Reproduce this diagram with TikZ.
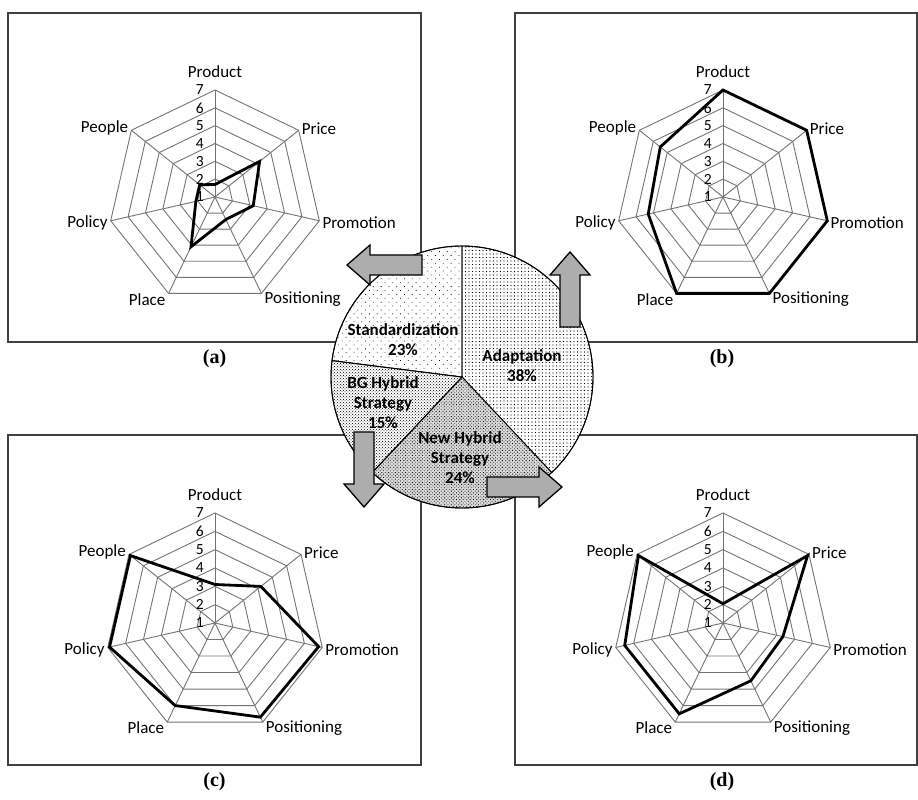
\documentclass[tikz,border=0pt]{standalone}
\usepackage{fontspec}
\setmainfont{Carlito}
\newfontfamily\capfont{Liberation Serif}
\usepackage{tikz}
\usetikzlibrary{positioning,patterns,patterns.meta}

% one spider chart: name, centre, radius, values (Product ... People)
\newcommand{\radarplot}[4]{%
  \begin{scope}[shift={#2}]
    \foreach \k in {2,...,7}
      \draw[grid] (90:{(\k-1)*#3/6}) \foreach \i in {1,...,6} { -- ({90-\i*360/7}:{(\k-1)*#3/6}) } -- cycle;
    \foreach \i in {0,...,6}
      \draw[grid] (0,0) -- ({90-\i*360/7}:#3);
    \foreach \k in {1,...,7}
      \node[vallab] (#1-v\k) at (-10,{(\k-1)*#3/6}) {\k};
    \foreach \lab/\anc/\dy [count=\i from 0] in {Product/south/9, Price/west/2, Promotion/west/-2, Positioning/west/-6, Place/east/-6, Policy/east/-2, People/east/2}
      \node[axlab, anchor=\anc, yshift=\dy] (#1-\i) at ({90-\i*360/7}:#3) {\lab};
    \foreach \v [count=\i from 0] in {#4}
      \coordinate (#1-p\i) at ({90-\i*360/7}:{(\v-1)*#3/6});
    \draw[dataline] (#1-p0) -- (#1-p1) -- (#1-p2) -- (#1-p3) -- (#1-p4) -- (#1-p5) -- (#1-p6) -- cycle;
  \end{scope}}

\begin{document}
\begin{tikzpicture}[
    x=1pt, y=1pt,
    panel/.style={draw=black!75, line width=1.3pt, inner sep=0pt},
    caption/.style={font=\capfont\bfseries\fontsize{20}{22}\selectfont, inner sep=3pt},
    grid/.style={draw=black!55, line width=0.9pt},
    dataline/.style={draw=black, line width=2.8pt, line join=miter},
    axlab/.style={font=\fontsize{17}{20}\selectfont, inner sep=3pt},
    vallab/.style={font=\fontsize{15.5}{17}\selectfont, anchor=east, inner sep=1pt},
    slice/.style={draw=black, line width=0.9pt},
    pielab/.style={font=\bfseries\fontsize{17}{20}\selectfont, align=center, inner sep=1pt},
    arrowbody/.style={draw=black, line width=1.3pt, fill=black!32, line join=miter},
    blockarrow/.pic={\draw[arrowbody] (0,-10) -- (52,-10) -- (52,-20) -- (75,0) -- (52,20) -- (52,10) -- (0,10) -- cycle;}
  ]
  \useasboundingbox (0,0) rectangle (918,800);

  % the four panels
  \node[panel, minimum width=413pt, minimum height=329pt] (boxa) at (214.5,622.5) {};
  \node[panel, minimum width=402pt, minimum height=329pt] (boxb) at (716,622.5) {};
  \node[panel, minimum width=413pt, minimum height=330pt] (boxc) at (214.5,200) {};
  \node[panel, minimum width=402pt, minimum height=330pt] (boxd) at (716,200) {};
  \node[caption, below=4pt of boxa] (capa) {(a)};
  \node[caption, below=4pt of boxb, xshift=6pt] (capb) {(b)};
  \node[caption, below=4pt of boxc] (capc) {(c)};
  \node[caption, below=4pt of boxd, xshift=6pt] (capd) {(d)};

  \radarplot{ra}{(215,603)}{107}{1.7,4.2,3.2,2.4,4.1,2.1,2.1}
  \radarplot{rb}{(723,603)}{107}{7,7,7,7,7,5.3,5.5}
  \radarplot{rc}{(215,177)}{110}{3.1,4.2,6.8,6.7,6.0,6.9,6.9}
  \radarplot{rd}{(723,177)}{110}{2.05,6.9,4.35,4.5,6.5,6.5,6.9}

  % pie in the middle
  \begin{scope}[shift={(462,423)}]
    \fill[white] (0,0) circle (131);
    \draw[slice, pattern={Dots[distance=3.5pt, radius=0.55pt]}] (0,0) -- (90:131) arc (90:-46.8:131) -- cycle;
    \draw[slice, preaction={fill=black!14}, pattern={Dots[distance=2.4pt, angle=45, radius=0.6pt]}] (0,0) -- (-46.8:131) arc (-46.8:-133.2:131) -- cycle;
    \draw[slice, pattern=crosshatch dots] (0,0) -- (-133.2:131) arc (-133.2:-187.2:131) -- cycle;
    \draw[slice, pattern={Dots[distance=5.5pt, angle=45, radius=0.55pt]}] (0,0) -- (172.8:131) arc (172.8:90:131) -- cycle;
    \draw[slice] (0,0) circle (131);
  \end{scope}
  \node[pielab] (std) at (403,460) {Standardization\\23\%};
  \node[pielab] (adp) at (522,434) {Adaptation\\38\%};
  \node[pielab] (bgh) at (383,397) {BG Hybrid\\Strategy\\15\%};
  \node[pielab] (nhs) at (460,342) {New Hybrid\\Strategy\\24\%};

  % block arrows towards the panels
  \pic[rotate=180] (toa) at (422,535) {blockarrow};
  \pic[rotate=90] (tob) at (570,473) {blockarrow};
  \pic[rotate=-90] (toc) at (364,368) {blockarrow};
  \pic (tod) at (487,313) {blockarrow};
\end{tikzpicture}
\end{document}
